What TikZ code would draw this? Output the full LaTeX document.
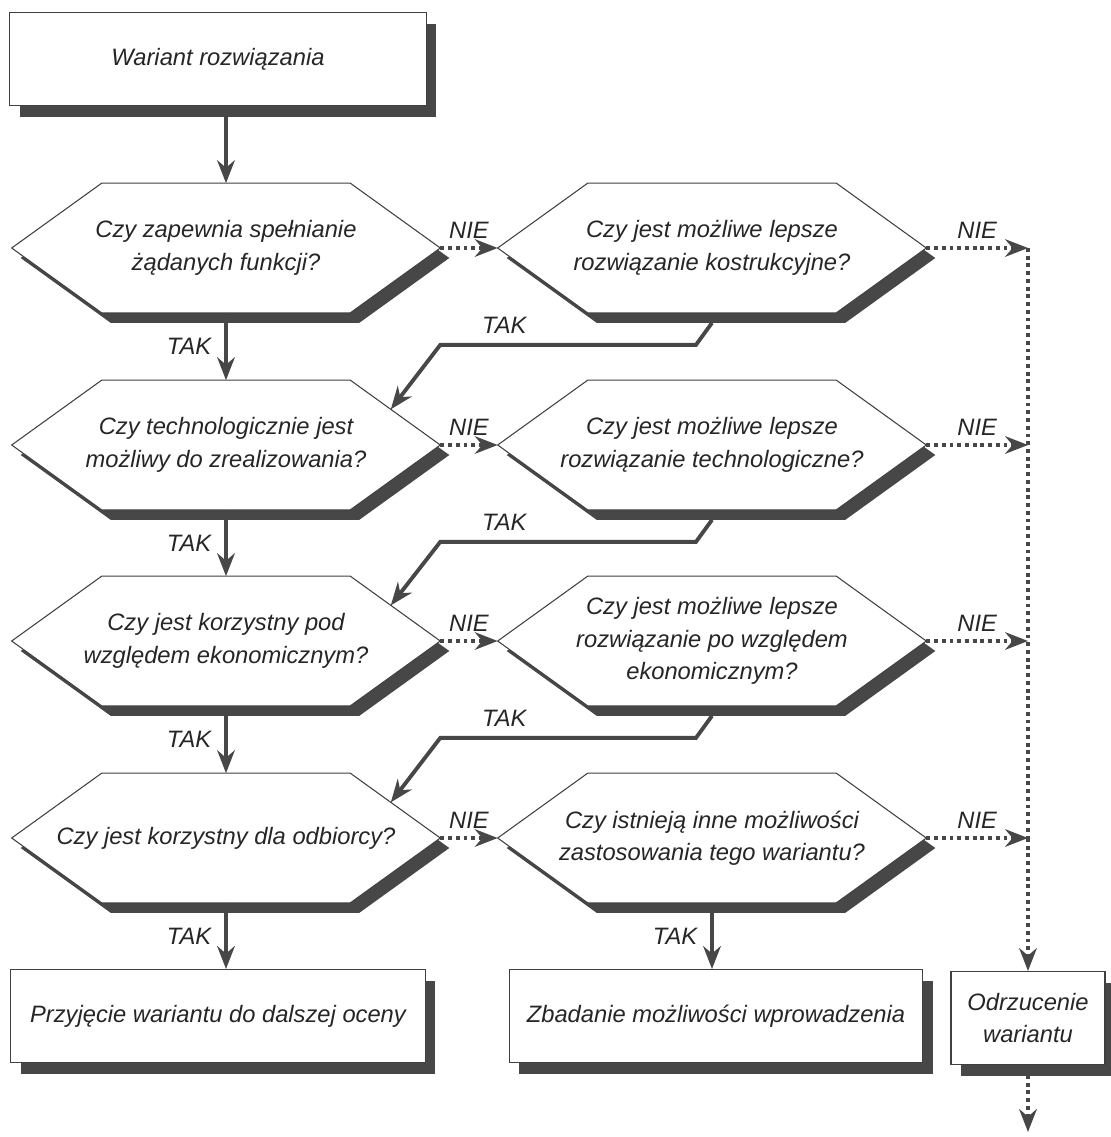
\documentclass[tikz,border=0pt]{standalone}
\usepackage{fontspec}
\setmainfont{Liberation Sans}
\usetikzlibrary{arrows.meta,shadows,calc,backgrounds}

\tikzset{
  txt/.style={font=\itshape\fontsize{13.5}{18.5}\selectfont, text=black!85},
  box/.style={txt, draw=black!75, fill=white, line width=0.6pt, align=center,
    minimum height=1.86cm, inner sep=2pt,
    drop shadow={shadow xshift=0.2cm, shadow yshift=-0.23cm, fill=black!72, opacity=1}},
  hexbox/.style={txt, align=center, minimum width=8.56cm, minimum height=2.58cm, inner sep=0pt},
  hexline/.style={draw=black!75, fill=white, line width=0.6pt},
  hexshade/.style={fill=black!72},
  tak/.style={draw=black!72, line width=2.2pt, -{Stealth[length=13pt,width=10pt]}},
  nie/.style={draw=black!72, line width=2pt, dash pattern=on 2.2pt off 2.2pt,
    -{Stealth[length=13pt,width=10pt]}},
  nieline/.style={draw=black!72, line width=2pt, dash pattern=on 2.2pt off 2.2pt}
}

\begin{document}
\begin{tikzpicture}[x=0.02cm, y=-0.02cm]
    \useasboundingbox (0,0) rectangle (1110,1137);
    % boxes and questions
    \node[box, minimum width=8.34cm] (start) at (218,59) {Wariant rozwiązania};
    \node[hexbox] (hL1) at (226,248) {Czy zapewnia spełnianie\\żądanych funkcji?};
    \node[hexbox] (hR1) at (712,248) {Czy jest możliwe lepsze\\rozwiązanie kostrukcyjne?};
    \node[hexbox] (hL2) at (226,445) {Czy technologicznie jest\\możliwy do zrealizowania?};
    \node[hexbox] (hR2) at (712,445) {Czy jest możliwe lepsze\\rozwiązanie technologiczne?};
    \node[hexbox] (hL3) at (226,641) {Czy jest korzystny pod\\względem ekonomicznym?};
    \node[hexbox] (hR3) at (712,641) {Czy jest możliwe lepsze\\rozwiązanie po względem\\ekonomicznym?};
    \node[hexbox] (hL4) at (226,838) {Czy jest korzystny dla odbiorcy?};
    \node[hexbox] (hR4) at (712,838) {Czy istnieją inne możliwości\\zastosowania tego wariantu?};
    \node[box, minimum width=8.3cm] (accept) at (218,1016) {Przyjęcie wariantu do dalszej oceny};
    \node[box, minimum width=8.28cm] (study) at (716,1016) {Zbadanie możliwości wprowadzenia};
    \node[box, minimum width=3.08cm] (reject) at (1028,1018) {Odrzucenie\\wariantu};
    \coordinate (out) at (1028,1132);

    % hexagon outlines behind the question texts
    \begin{scope}[on background layer]
    \foreach \h in {hL1,hR1,hL2,hR2,hL3,hR3,hL4,hR4} {
        \fill[hexshade] ([shift={(9,10)}]\h.west) -- ([shift={(99,10)}]\h.north west)
            -- ([shift={(-81,10)}]\h.north east) -- ([shift={(9,10)}]\h.east)
            -- ([shift={(-81,10)}]\h.south east) -- ([shift={(99,10)}]\h.south west) -- cycle;
        \filldraw[hexline] (\h.west) -- ([shift={(90,0)}]\h.north west)
            -- ([shift={(-90,0)}]\h.north east) -- (\h.east)
            -- ([shift={(-90,0)}]\h.south east) -- ([shift={(90,0)}]\h.south west) -- cycle;
    }
    \end{scope}

    % main line
    \draw[tak] (start.south -| hL1.north) -- (hL1.north);
    \draw[tak] (hL1.south) -- (hL2.north) node[txt, midway, left=4pt] {TAK};
    \draw[tak] (hL2.south) -- (hL3.north) node[txt, midway, left=4pt] {TAK};
    \draw[tak] (hL3.south) -- (hL4.north) node[txt, midway, left=4pt] {TAK};
    \draw[tak] (hL4.south) -- (hL4.south |- accept.north) node[txt, midway, left=4pt] {TAK};
    \draw[tak] (hR4.south) -- (hR4.south |- study.north) node[txt, midway, left=4pt] {TAK};

    % NIE branches
    \foreach \r in {1,...,4} {
        \draw[nie] (hL\r.east) -- (hR\r.west) node[txt, midway, above=1pt] {NIE};
        \draw[nie] (hR\r.east) -- (hR\r.east -| reject.north) node[txt, midway, above=1pt] {NIE};
    }
    \draw[nieline] (hR1.east -| reject.north) -- (hR4.east -| reject.north);
    \draw[nie] (hR4.east -| reject.north) -- (reject.north);
    \draw[nie] ([yshift=-0.2cm]reject.south) -- (out);

    % TAK back to the left column
    \foreach \r/\n in {1/2,2/3,3/4} {
        \draw[tak] ([yshift=-0.2cm]hR\r.south) -- ++(-16,22) coordinate (b\r)
            -- (b\r -| hL\r.east) node[txt, pos=0.75, above=2pt] {TAK}
            -- ($([shift={(-90,0)}]hL\n.north east)!0.45!(hL\n.east)$);
    }
\end{tikzpicture}
\end{document}
